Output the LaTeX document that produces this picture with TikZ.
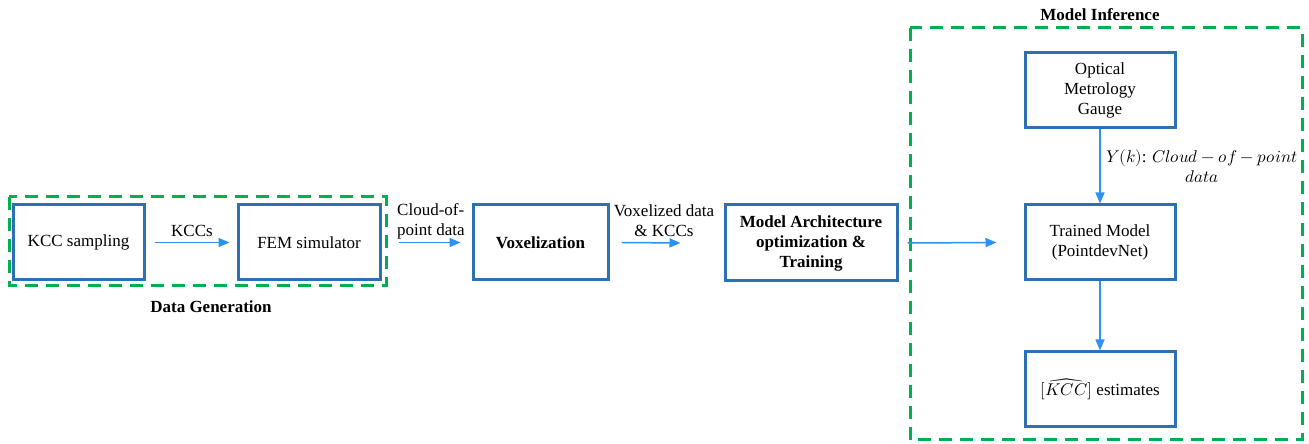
\documentclass[tikz,border=0pt]{standalone}
\usepackage{fontspec}
\usepackage{unicode-math}
\setmainfont{Liberation Serif}
\usetikzlibrary{arrows.meta}

\definecolor{boxblue}{RGB}{46,112,180}
\definecolor{flowblue}{RGB}{45,145,240}
\definecolor{groupgreen}{RGB}{0,176,80}

\begin{document}
\begin{tikzpicture}[x=1pt,y=1pt,
  font=\fontsize{17}{20}\selectfont,
  block/.style={draw=boxblue,line width=3pt,minimum height=75pt,align=center,inner sep=2pt},
  flow/.style={draw=flowblue,line width=1.5pt,-{Triangle[length=11pt,width=9pt]}},
  group/.style={draw=groupgreen,line width=3pt,dash pattern=on 13pt off 8pt}]
\useasboundingbox (0,0) rectangle (1309,444);

% data generation
\node[block,minimum width=131pt] (kcc) at (78.5,201.5) {KCC sampling};
\node[block,minimum width=142pt] (fem) at (309,201.5) {FEM simulator};
\draw[group] (9,247) rectangle (386,158);
\node[font=\fontsize{17}{20}\selectfont\bfseries] (gen) at (211,137) {Data Generation};

\node[block,minimum width=135pt,font=\fontsize{17}{20}\selectfont\bfseries] (vox) at (540.5,201.5) {Voxelization};
\node[block,minimum width=172pt,minimum height=76pt,font=\fontsize{17}{20}\selectfont\bfseries] (arch) at (811,201)
  {Model Architecture\\optimization \&\\Training};

% model inference
\node[block,minimum width=150pt] (opt) at (1100,353.5) {Optical\\Metrology\\Gauge};
\node[block,minimum width=150pt] (trained) at (1100,201.5) {Trained Model\\(PointdevNet)};
\node[block,minimum width=150pt] (est) at (1100,54.5) {$[\widehat{KCC}]$ estimates};
\draw[group] (910,416) rectangle (1302,4);
\node[font=\fontsize{17}{20}\selectfont\bfseries] (inf) at (1100,429) {Model Inference};

\draw[flow] ([xshift=9pt]kcc.east) -- ([xshift=-7pt]fem.west)
  node[midway,above=2pt] {KCCs};
\draw[flow] ([xshift=17pt]fem.east) -- ([xshift=-11pt]vox.west);
\node[align=left,anchor=south west,inner sep=0pt] (cloud) at (397,205) {Cloud-of-\\point data};
\draw[flow] ([xshift=12pt]vox.east) -- ([xshift=-43pt]arch.west);
\node[align=center] (voxdata) at (664,223) {Voxelized data\\\& KCCs};
\draw[flow] ([xshift=9pt]arch.east) -- ([xshift=-27pt]trained.west);
\draw[flow] (opt.south) -- (trained.north)
  node[midway,right=2pt,align=center] {$Y(k)$: $Cloud-of-point$\\$data$};
\draw[flow] (trained.south) -- (est.north);
\end{tikzpicture}
\end{document}
